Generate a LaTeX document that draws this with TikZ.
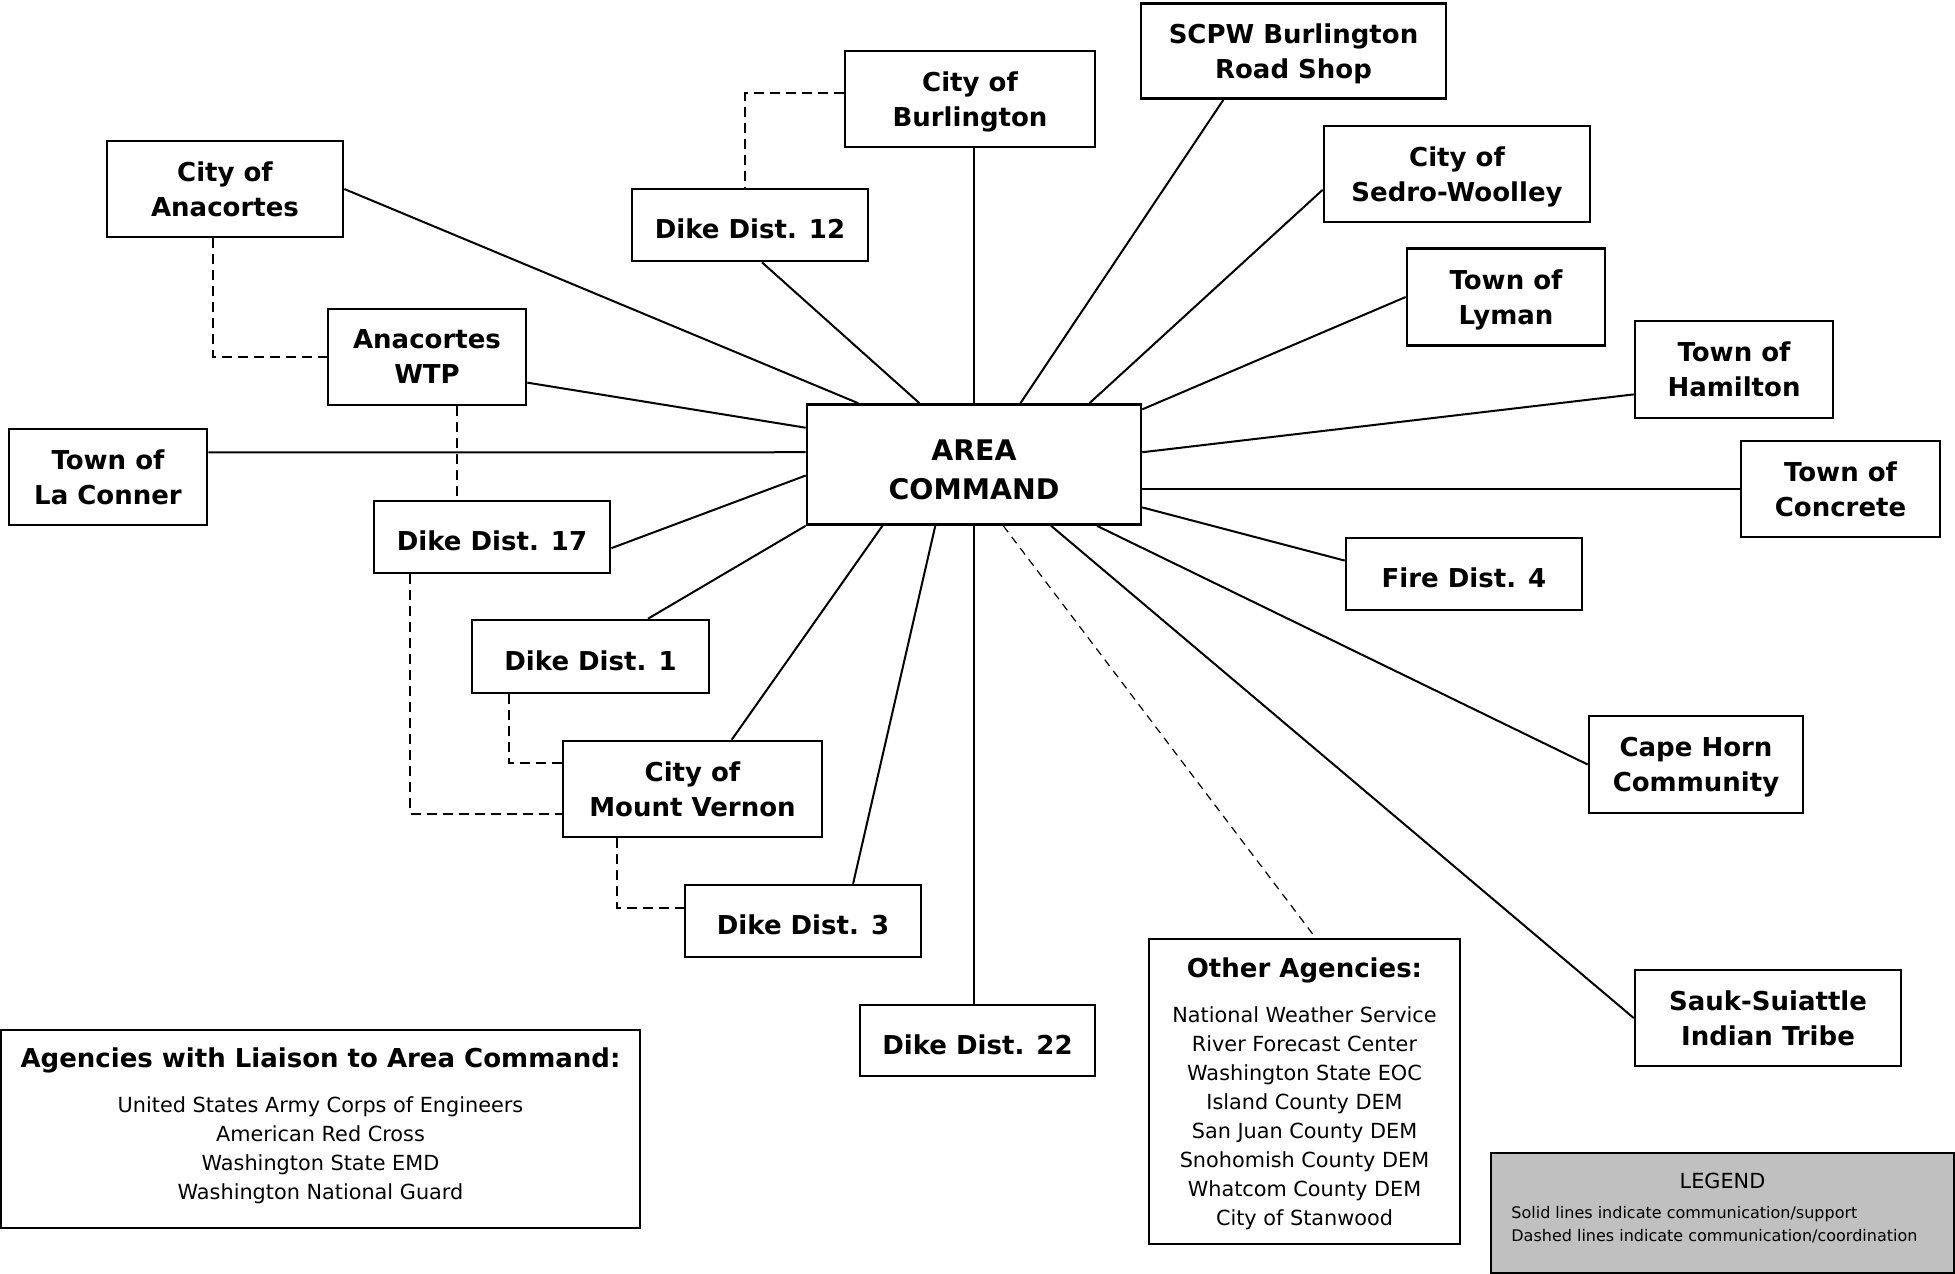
\documentclass[tikz,border=0pt]{standalone}
\usepackage{fontspec}
\setmainfont{DejaVu Sans}
\usetikzlibrary{calc}

\definecolor{legendgray}{HTML}{C0C0C0}

\newcommand{\boxfont}{\fontsize{13}{17.5}\selectfont\bfseries}
\newcommand{\cmdfont}{\fontsize{14.2}{19.3}\selectfont\bfseries}
\newcommand{\listfont}{\fontsize{10.4}{14.5}\selectfont}
\newcommand{\headfont}{\fontsize{13}{14.5}\selectfont\bfseries}
\newcommand{\legfont}{\fontsize{8}{11.2}\selectfont}

\begin{document}
\begin{tikzpicture}[x=0.5pt, y=-0.5pt,
  agency/.style={draw, line width=1.3pt, fill=white, align=center, font=\boxfont, inner sep=0pt, text depth=0pt},
  oneline/.style={text height=13.6pt},
  boxsize/.style 2 args={minimum width={#1*0.5pt}, minimum height={#2*0.5pt}},
  link/.style={line width=1pt},
  coordlink/.style={line width=1pt, dash pattern=on 5pt off 3pt},
  otherlink/.style={line width=0.6pt, dash pattern=on 4pt off 3pt}]

\useasboundingbox (0,0) rectangle (1955,1274);

%================ AREA COMMAND ==================
\node[agency, font=\cmdfont, text height=34.5pt, boxsize={334}{120}] (ac) at (974,464.5) {AREA\\COMMAND};

%================ TOP ROW ==================
\node[agency, boxsize={236}{96}] (anac) at (225,189) {City of\\Anacortes};
\node[agency, oneline, boxsize={236}{72}] (dd12) at (750,225) {Dike Dist. 12};
\node[agency, boxsize={250}{96}] (burl) at (970,99) {City of\\Burlington};
\node[agency, boxsize={305}{95}] (scpw) at (1293.5,51) {SCPW Burlington\\Road Shop};
\node[agency, boxsize={266}{96}] (sedro) at (1457,174) {City of\\Sedro-Woolley};

%================ RIGHT SIDE ==================
\node[agency, boxsize={198}{97}] (lyman) at (1506,297) {Town of\\Lyman};
\node[agency, boxsize={198}{97}] (hamilton) at (1734,369.5) {Town of\\Hamilton};
\node[agency, boxsize={199}{96}] (concrete) at (1840.5,489) {Town of\\Concrete};
\node[agency, oneline, boxsize={236}{72}] (fire4) at (1464,574) {Fire Dist. 4};
\node[agency, boxsize={214}{97}] (capehorn) at (1696,764.5) {Cape Horn\\Community};
\node[agency, boxsize={266}{96}] (sauk) at (1768,1018) {Sauk-Suiattle\\Indian Tribe};

%================ LEFT SIDE ==================
\node[agency, boxsize={198}{96}] (wtp) at (427,357) {Anacortes\\WTP};
\node[agency, boxsize={198}{96}] (laconner) at (108,477) {Town of\\La Conner};
\node[agency, oneline, boxsize={236}{72}] (dd17) at (492,537) {Dike Dist. 17};
\node[agency, oneline, boxsize={237}{73}] (dd1) at (590.5,656.5) {Dike Dist. 1};
\node[agency, boxsize={259}{96}] (mtv) at (692.5,789) {City of\\Mount Vernon};
\node[agency, oneline, boxsize={236}{72}] (dd3) at (803,921) {Dike Dist. 3};
\node[agency, oneline, boxsize={235}{71}] (dd22) at (977.5,1040.5) {Dike Dist. 22};

%================ LISTS ==================
\node[agency, font=\listfont, boxsize={311}{305}] (other) at (1304.5,1091.5)
  {{\headfont Other Agencies:}\\[8pt]
   National Weather Service\\ River Forecast Center\\ Washington State EOC\\
   Island County DEM\\ San Juan County DEM\\ Snohomish County DEM\\
   Whatcom County DEM\\ City of Stanwood};
\node[agency, font=\listfont, text depth=5pt, boxsize={639}{198}] (liaison) at (320.5,1129)
  {{\headfont Agencies with Liaison to Area Command:}\\[8pt]
   United States Army Corps of Engineers\\ American Red Cross\\
   Washington State EMD\\ Washington National Guard};

% legend
\node[draw, line width=1.3pt, fill=legendgray, boxsize={463}{120}] (legend) at (1722.5,1213) {};
\node[font=\fontsize{10.4}{12}\selectfont] (legtitle) at (1722.5,1181) {LEGEND};
\node[font=\legfont, align=left, anchor=west, inner sep=0pt] (legtext) at (1511,1224.5)
  {Solid lines indicate communication/support\\Dashed lines indicate communication/coordination};

%================ SOLID LINKS ==================
\draw[link] (anac.east) -- ($(ac.north west)!0.156!(ac.north east)$);
\draw[link] ($(dd12.south west)!0.55!(dd12.south east)$) -- ($(ac.north west)!0.338!(ac.north east)$);
\draw[link] (burl.south -| ac.north) -- (ac.north);
\draw[link] ($(scpw.south west)!0.272!(scpw.south east)$) -- ($(ac.north west)!0.638!(ac.north east)$);
\draw[link] ($(sedro.north west)!0.66!(sedro.south west)$) -- ($(ac.north west)!0.843!(ac.north east)$);
\draw[link] (lyman.west) -- ($(ac.north east)!0.05!(ac.south east)$);
\draw[link] ($(hamilton.north west)!0.75!(hamilton.south west)$) -- ($(ac.north east)!0.4!(ac.south east)$);
\draw[link] (concrete.west) -- (concrete.west -| ac.east);
\draw[link] ($(fire4.north west)!0.32!(fire4.south west)$) -- ($(ac.north east)!0.85!(ac.south east)$);
\draw[link] (capehorn.west) -- ($(ac.south west)!0.865!(ac.south east)$);
\draw[link] (sauk.west) -- ($(ac.south west)!0.729!(ac.south east)$);
\draw[link] (ac.south) -- (ac.south |- dd22.north);
\draw[link] ($(dd3.north west)!0.71!(dd3.north east)$) -- ($(ac.south west)!0.385!(ac.south east)$);
\draw[link] ($(mtv.north west)!0.65!(mtv.north east)$) -- ($(ac.south west)!0.228!(ac.south east)$);
\draw[link] ($(dd1.north west)!0.74!(dd1.north east)$) -- (ac.south west);
\draw[link] ($(dd17.north east)!0.65!(dd17.south east)$) -- ($(ac.north west)!0.59!(ac.south west)$);
\draw[link] ($(laconner.north east)!0.25!(laconner.south east)$) -- ($(ac.north west)!0.4!(ac.south west)$);
\draw[link] ($(wtp.north east)!0.76!(wtp.south east)$) -- ($(ac.north west)!0.2!(ac.south west)$);

%================ DASHED LINKS ==================
\draw[coordlink] ($(burl.north west)!0.44!(burl.south west)$) -| ($(dd12.north west)!0.48!(dd12.north east)$);
\draw[coordlink] ($(anac.south west)!0.45!(anac.south east)$) |- (wtp.west);
\draw[coordlink] ($(wtp.south west)!0.65!(wtp.south east)$) coordinate (wtpfoot) -- (wtpfoot |- dd17.north);
\draw[coordlink] ($(dd17.south west)!0.157!(dd17.south east)$) |- ($(mtv.north west)!0.75!(mtv.south west)$);
\draw[coordlink] ($(dd1.south west)!0.16!(dd1.south east)$) |- ($(mtv.north west)!0.24!(mtv.south west)$);
\draw[coordlink] ($(mtv.south west)!0.21!(mtv.south east)$) |- ($(dd3.north west)!0.32!(dd3.south west)$);
\draw[otherlink] ($(ac.south west)!0.587!(ac.south east)$) -- ($(other.north west)!0.535!(other.north east)$);

\end{tikzpicture}
\end{document}
